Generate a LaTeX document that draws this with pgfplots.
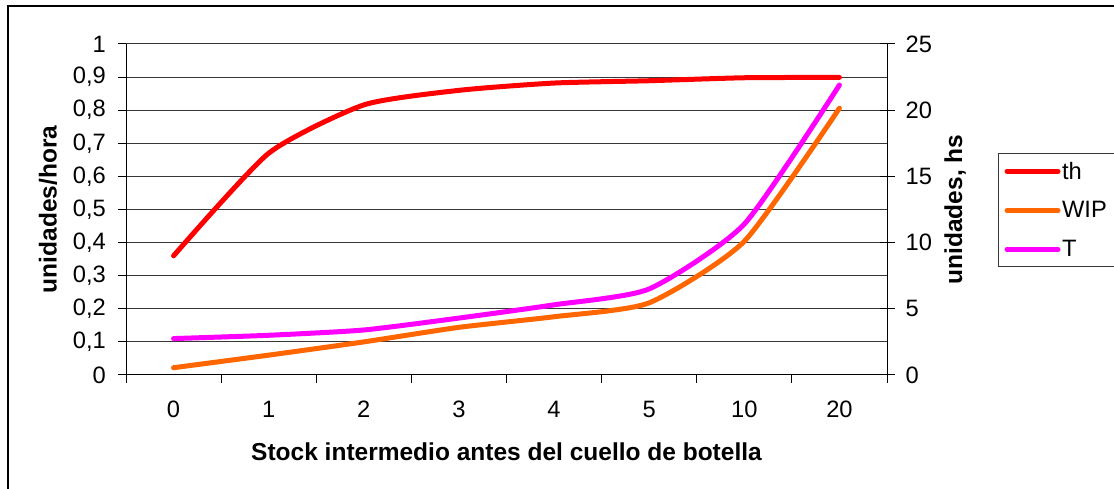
\documentclass[border=0pt]{standalone}
\usepackage{fontspec}
\setmainfont{Liberation Sans}
\usepackage{pgfplots}
\pgfplotsset{compat=1.18}

\definecolor{thred}{RGB}{255,0,0}
\definecolor{wiporange}{RGB}{255,102,0}
\definecolor{tmagenta}{RGB}{255,0,255}
\definecolor{gridgray}{RGB}{55,55,55}

% Throughput (left axis) and WIP / flow time (right axis) per buffer size
\pgfplotstableread{
cat th
0 0.360
1 0.670
2 0.816
3 0.860
4 0.882
5 0.889
6 0.898
7 0.899
}\thdata
\pgfplotstableread{
cat wip t
0 0.55 2.75
1 1.50 3.00
2 2.50 3.40
3 3.60 4.30
4 4.40 5.30
5 5.45 6.50
6 10.10 11.40
7 20.15 21.90
}\wiptdata

\newcommand{\labfont}{\bfseries\fontsize{24.5}{28}\selectfont}
\newcommand{\tickfont}{\fontsize{23.7}{27}\selectfont}

\pgfplotsset{
  chartbase/.style={
    scale only axis, width=761pt, height=331pt,
    at={(126pt,114pt)}, anchor=south west,
    xmin=-0.5, xmax=7.5,
    ticklabel style={font=\tickfont},
    /pgf/number format/assume math mode=true,
    axis line style={-, black, line width=1pt},
    tick style={black, line width=1pt},
  },
  serie/.style={line width=5pt, line cap=round, line join=round, smooth, tension=0.36},
}

\begin{document}
\begin{tikzpicture}[x=1pt,y=1pt]
\useasboundingbox (0,0) rectangle (1114,489);
\draw[line width=1.2pt] (8,-5) -- (8,483) -- (1120,483);

\begin{axis}[chartbase,
  axis x line*=bottom, axis y line*=left,
  ymin=0, ymax=1,
  ytick={0,0.1,0.2,0.3,0.4,0.5,0.6,0.7,0.8,0.9,1},
  yticklabel style={/pgf/number format/fixed, /pgf/number format/precision=1,
    /pgf/number format/use comma, anchor=east, inner sep=0pt, xshift=-12pt},
  ymajorgrids, grid style={gridgray, line width=1pt},
  tick align=outside, major tick length=8pt, minor tick length=8pt,
  xtick={0,...,7}, xticklabels={0,1,2,3,4,5,10,20},
  major x tick style={draw=none},
  minor xtick={-0.5,0.5,...,7.5},
  xticklabel style={anchor=base, inner sep=0pt, yshift=-34.5pt},
  ylabel={unidades/hora},
  xlabel={Stock intermedio antes del cuello de botella},
  every axis y label/.style={at={(axis description cs:-0.1025,0.5)}, rotate=90,
    anchor=center, font=\labfont},
  every axis x label/.style={at={(axis description cs:0.5,-0.2326)}, anchor=center,
    font=\labfont},
]
\addplot[serie, thred] table[x=cat, y=th] {\thdata};
\end{axis}

\begin{axis}[chartbase,
  axis y line*=right, axis x line=none,
  xtick=\empty,
  ymin=0, ymax=25, ytick={0,5,10,15,20,25},
  tick align=center, major tick length=15pt,
  yticklabel style={anchor=west, inner sep=0pt, xshift=11pt},
  ylabel={unidades, hs},
  every axis y label/.style={at={(axis description cs:1.0894,0.5)}, rotate=90,
    anchor=center, font=\labfont},
  legend style={at={(axis description cs:1.1459,0.6707)}, anchor=north west,
    draw=gridgray, line width=1pt, inner xsep=6pt, inner ysep=6.5pt,
    font=\tickfont, row sep=17pt,
    nodes={inner xsep=1.5pt, inner ysep=2pt}},
  legend image code/.code={\draw[#1] (0pt,0pt) -- (51pt,0pt);},
  legend cell align=left,
]
\addlegendimage{serie, thred}
\addlegendentry{th}
\addplot[serie, wiporange] table[x=cat, y=wip] {\wiptdata};
\addlegendentry{WIP}
\addplot[serie, tmagenta] table[x=cat, y=t] {\wiptdata};
\addlegendentry{T}
\end{axis}
\end{tikzpicture}
\end{document}
